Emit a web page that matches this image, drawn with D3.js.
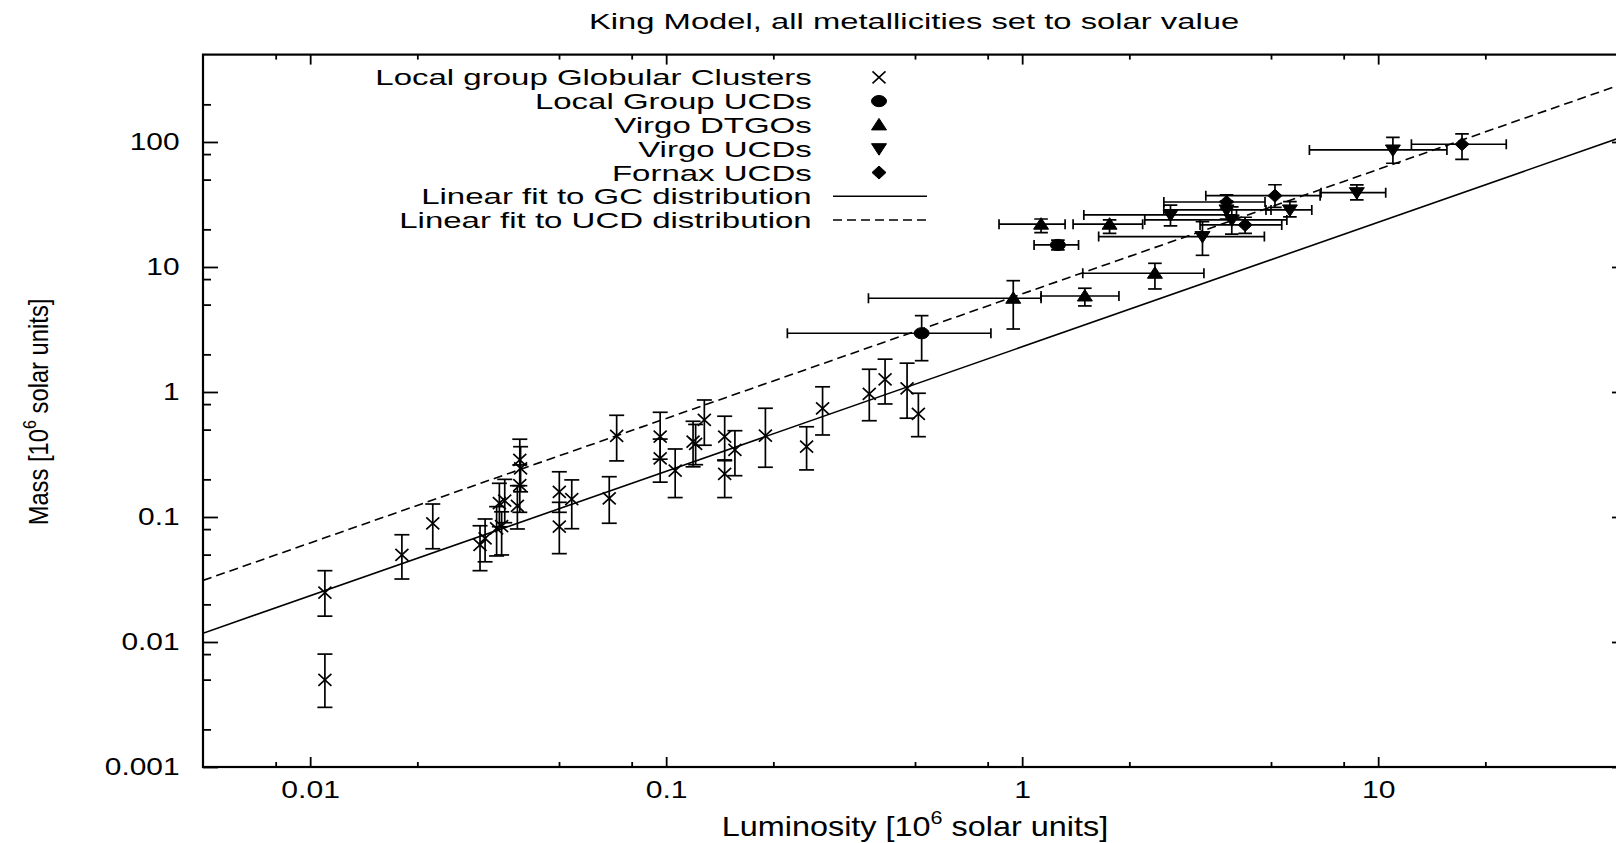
<!DOCTYPE html>
<html><head><meta charset="utf-8">
<script src="https://cdn.jsdelivr.net/npm/d3@7"></script>
<style>
body{margin:0;background:#fff}
svg{display:block;background:#fff}
text{font-family:"Liberation Sans",Arial,Helvetica,sans-serif;fill:#000}
</style>
</head><body>
<svg id="chart" width="1616" height="843"></svg>
<script>
// ---------- text ----------
const chartTitle = "King Model, all metallicities set to solar value";
const xTitleParts = ["Luminosity [10", "6", " solar units]"];
const yTitleParts = ["Mass [10", "6", " solar units]"];
const legendLabels = ["Local group Globular Clusters","Local Group UCDs","Virgo DTGOs","Virgo UCDs","Fornax UCDs","Linear fit to GC distribution","Linear fit to UCD distribution"];

// ---------- axes ----------
const xDomain = [0.005, 50];
const yDomain = [0.001, 500];
const xMajorTicks = [0.01, 0.1, 1, 10];
const xTickLabels = ["0.01", "0.1", "1", "10"];
const xMinorTicks = [0.008, 0.02, 0.05, 0.08, 0.2, 0.5, 0.8, 2, 5, 8, 20];
const yMajorTicks = [0.001, 0.01, 0.1, 1, 10, 100];
const yTickLabels = ["0.001", "0.01", "0.1", "1", "10", "100"];
const yMinorTicks = [0.002, 0.005, 0.008, 0.02, 0.05, 0.08, 0.2, 0.5, 0.8, 2, 5, 8, 20, 50, 80, 200];

// ---------- Local group globular clusters (y error only) ----------
const gcL   = [0.011, 0.011, 0.0181, 0.0221, 0.030, 0.031, 0.0334, 0.0345, 0.0340, 0.0352, 0.0388, 0.0390, 0.0388, 0.0382, 0.0501, 0.0501, 0.0543, 0.0692, 0.0726, 0.0962, 0.0962, 0.106, 0.119, 0.121, 0.128, 0.146, 0.146, 0.156, 0.190, 0.248, 0.275, 0.372, 0.412, 0.475, 0.511];
const gcM   = [0.0248, 0.00497, 0.0497, 0.0889, 0.0597, 0.0675, 0.0811, 0.0847, 0.129, 0.135, 0.286, 0.245, 0.180, 0.123, 0.159, 0.0836, 0.139, 0.141, 0.445, 0.439, 0.295, 0.235, 0.400, 0.384, 0.597, 0.439, 0.221, 0.344, 0.447, 0.365, 0.741, 0.964, 1.26, 1.07, 0.667];
const gcMlo = [0.0161, 0.0030, 0.0319, 0.0557, 0.0372, 0.0438, 0.0488, 0.0497, 0.0836, 0.090, 0.178, 0.159, 0.109, 0.0802, 0.109, 0.0509, 0.0806, 0.0891, 0.281, 0.290, 0.190, 0.143, 0.252, 0.262, 0.375, 0.286, 0.143, 0.214, 0.250, 0.238, 0.453, 0.589, 0.802, 0.617, 0.439];
const gcMhi = [0.0372, 0.0080, 0.0721, 0.127, 0.0851, 0.0964, 0.121, 0.110, 0.186, 0.200, 0.419, 0.365, 0.261, 0.178, 0.230, 0.131, 0.198, 0.210, 0.651, 0.688, 0.420, 0.350, 0.583, 0.55, 0.863, 0.640, 0.282, 0.490, 0.741, 0.527, 1.10, 1.52, 1.83, 1.70, 0.977];

// ---------- Local Group UCDs ----------
const lgL   = [0.522, 1.26];
const lgLlo = [0.219, 1.08];
const lgLhi = [0.817, 1.44];
const lgM   = [2.95, 15.0];
const lgMlo = [1.78, 13.7];
const lgMhi = [4.08, 16.4];

// ---------- Virgo DTGOs ----------
const dtL   = [0.944, 1.50, 2.36, 1.13, 1.76];
const dtLlo = [0.370, 1.13, 1.48, 0.861, 1.39];
const dtLhi = [1.13, 1.87, 3.24, 1.32, 2.18];
const dtM   = [5.62, 5.86, 8.91, 22.0, 22.0];
const dtMlo = [3.19, 4.88, 6.67, 18.8, 18.6];
const dtMhi = [7.77, 6.76, 10.7, 24.2, 23.8];

// ---------- Virgo UCDs ----------
const vuL   = [11.0, 8.71, 5.65, 2.61, 3.21, 3.75, 3.88];
const vuLlo = [6.41, 6.91, 4.84, 1.49, 1.64, 2.50, 2.21];
const vuLhi = [15.6, 10.5, 6.51, 4.0, 4.79, 5.0, 5.54];
const vuM   = [86.3, 39.3, 28.6, 26.1, 17.5, 28.6, 23.8];
const vuMlo = [67.6, 34.4, 25.2, 21.3, 12.4, 24.2, 18.3];
const vuMhi = [109, 45.3, 33.3, 31.3, 23.0, 33.7, 30.3];

// ---------- Fornax UCDs ----------
const fxL   = [17.2, 5.13, 3.75, 4.23];
const fxLlo = [12.4, 3.28, 2.50, 3.16];
const fxLhi = [22.9, 6.87, 4.81, 5.36];
const fxM   = [95.9, 37.2, 33.1, 21.7];
const fxMlo = [72.7, 30.0, 29.1, 18.6];
const fxMhi = [116, 45.5, 37.7, 25.0];

// ---------- linear fits in log-log: M = a * L^b ----------
const gcFit  = [2.30, 0.996];
const ucdFit = [6.09, 0.996];

// ================= drawing =================
const svg = d3.select("#chart");
const plot = {left: 203, right: 1627, top: 54.6, bottom: 767};

const x = d3.scaleLog().domain(xDomain).range([plot.left, plot.right]);
const y = d3.scaleLog().domain(yDomain).range([plot.bottom, plot.top]);

const FONT = 22;

// title
svg.append("text")
  .attr("transform", `translate(914,29) scale(1.49,1)`)
  .attr("text-anchor", "middle").attr("font-size", FONT).text(chartTitle);

// axes (ticks pointing inward, gnuplot style)
function styleAxis(g){
  g.select(".domain").remove();
  g.selectAll(".tick line").attr("stroke", "#000").attr("stroke-width", 1.8);
}
svg.append("g").attr("transform", `translate(0,${plot.bottom})`)
  .call(d3.axisBottom(x).tickValues(xMajorTicks).tickSizeInner(-10).tickSizeOuter(0)
        .tickPadding(15).tickFormat((d,i) => xTickLabels[i]))
  .call(styleAxis)
  .call(g => g.selectAll(".tick text").attr("font-size", 23).attr("font-family", null)
        .attr("transform", "scale(1.31,1)"));
svg.append("g").attr("transform", `translate(0,${plot.bottom})`)
  .call(d3.axisBottom(x).tickValues(xMinorTicks).tickSizeInner(-5).tickSizeOuter(0).tickFormat(""))
  .call(styleAxis);
svg.append("g").attr("transform", `translate(0,${plot.top})`)
  .call(d3.axisTop(x).tickValues(xMajorTicks).tickSizeInner(-10).tickSizeOuter(0).tickFormat(""))
  .call(styleAxis);
svg.append("g").attr("transform", `translate(0,${plot.top})`)
  .call(d3.axisTop(x).tickValues(xMinorTicks).tickSizeInner(-5).tickSizeOuter(0).tickFormat(""))
  .call(styleAxis);
svg.append("g").attr("transform", `translate(${plot.left},0)`)
  .call(d3.axisLeft(y).tickValues(yMajorTicks).tickSizeInner(-15).tickSizeOuter(0)
        .tickPadding(18).tickFormat((d,i) => yTickLabels[i]))
  .call(styleAxis)
  .call(g => g.selectAll(".tick text").attr("font-size", 23).attr("font-family", null)
        .attr("transform", "scale(1.3,1)"));
svg.append("g").attr("transform", `translate(${plot.left},0)`)
  .call(d3.axisLeft(y).tickValues(yMinorTicks).tickSizeInner(-8).tickSizeOuter(0).tickFormat(""))
  .call(styleAxis);
svg.append("g").attr("transform", `translate(${plot.right},0)`)
  .call(d3.axisRight(y).tickValues(yMajorTicks).tickSizeInner(-15).tickSizeOuter(0).tickFormat(""))
  .call(styleAxis);
svg.append("g").attr("transform", `translate(${plot.right},0)`)
  .call(d3.axisRight(y).tickValues(yMinorTicks).tickSizeInner(-8).tickSizeOuter(0).tickFormat(""))
  .call(styleAxis);

// border
svg.append("rect").attr("x", plot.left).attr("y", plot.top)
  .attr("width", plot.right - plot.left).attr("height", plot.bottom - plot.top)
  .attr("fill", "none").attr("stroke", "#000").attr("stroke-width", 2.2);

// axis titles
const xt = svg.append("text").attr("transform", "translate(915,836) scale(1.2,1)")
  .attr("text-anchor", "middle").attr("font-size", 27);
xt.append("tspan").text(xTitleParts[0]);
xt.append("tspan").attr("font-size", 18).attr("dy", -12).text(xTitleParts[1]);
xt.append("tspan").attr("dy", 12).text(xTitleParts[2]);

const yt = svg.append("text").attr("transform", "translate(48,412) rotate(-90) scale(0.95,1.1)")
  .attr("text-anchor", "middle").attr("font-size", 25);
yt.append("tspan").text(yTitleParts[0]);
yt.append("tspan").attr("font-size", 17).attr("dy", -11).text(yTitleParts[1]);
yt.append("tspan").attr("dy", 11).text(yTitleParts[2]);

// clip for data
svg.append("clipPath").attr("id", "pc").append("rect")
  .attr("x", plot.left).attr("y", plot.top)
  .attr("width", plot.right - plot.left).attr("height", plot.bottom - plot.top);
const data = svg.append("g").attr("clip-path", "url(#pc)");

// fit lines
const fitLine = d3.line().x(d => x(d[0])).y(d => y(d[1]));
function fitPoints(c){ return xDomain.map(L => [L, c[0] * Math.pow(L, c[1])]); }
data.append("path").attr("d", fitLine(fitPoints(gcFit)))
  .attr("fill", "none").attr("stroke", "#000").attr("stroke-width", 1.6);
data.append("path").attr("d", fitLine(fitPoints(ucdFit)))
  .attr("fill", "none").attr("stroke", "#000").attr("stroke-width", 1.6)
  .attr("stroke-dasharray", "9,5");

// markers
const markerPath = {
  cross: "M-6.5,-6L6.5,6M-6.5,6L6.5,-6",
  circle: "M-7.5,0A7.5,5.6 0 1,0 7.5,0A7.5,5.6 0 1,0 -7.5,0Z",
  up: "M0,-6.5L7.5,5L-7.5,5Z",
  down: "M0,6.5L7.5,-5L-7.5,-5Z",
  diamond: "M0,-6.5L7,0L0,6.5L-7,0Z"
};

function build(L, M, Mlo, Mhi, Llo, Lhi){
  return L.map((v,i) => ({L: v, M: M[i], Mlo: Mlo[i], Mhi: Mhi[i],
    Llo: Llo ? Llo[i] : null, Lhi: Lhi ? Lhi[i] : null}));
}
const series = [
  {pts: build(gcL, gcM, gcMlo, gcMhi), marker: "cross"},
  {pts: build(lgL, lgM, lgMlo, lgMhi, lgLlo, lgLhi), marker: "circle"},
  {pts: build(dtL, dtM, dtMlo, dtMhi, dtLlo, dtLhi), marker: "up"},
  {pts: build(vuL, vuM, vuMlo, vuMhi, vuLlo, vuLhi), marker: "down"},
  {pts: build(fxL, fxM, fxMlo, fxMhi, fxLlo, fxLhi), marker: "diamond"}
];

series.forEach(s => {
  const g = data.append("g");
  s.pts.forEach(p => {
    const cx = x(p.L), cy = y(p.M);
    const eb = g.append("g").attr("stroke", "#000").attr("stroke-width", 1.7).attr("fill", "none");
    const capW = s.marker === "cross" ? 7.5 : 6.8;
    eb.append("line").attr("x1", cx).attr("x2", cx).attr("y1", y(p.Mlo)).attr("y2", y(p.Mhi));
    eb.append("line").attr("x1", cx - capW).attr("x2", cx + capW).attr("y1", y(p.Mlo)).attr("y2", y(p.Mlo));
    eb.append("line").attr("x1", cx - capW).attr("x2", cx + capW).attr("y1", y(p.Mhi)).attr("y2", y(p.Mhi));
    if (p.Llo != null){
      eb.append("line").attr("x1", x(p.Llo)).attr("x2", x(p.Lhi)).attr("y1", cy).attr("y2", cy);
      eb.append("line").attr("x1", x(p.Llo)).attr("x2", x(p.Llo)).attr("y1", cy - 5).attr("y2", cy + 5);
      eb.append("line").attr("x1", x(p.Lhi)).attr("x2", x(p.Lhi)).attr("y1", cy - 5).attr("y2", cy + 5);
    }
    const m = g.append("path").attr("d", markerPath[s.marker]).attr("transform", `translate(${cx},${cy})`);
    if (s.marker === "cross") m.attr("fill", "none").attr("stroke", "#000").attr("stroke-width", 1.7);
    else m.attr("fill", "#000").attr("stroke", "#000").attr("stroke-width", 1);
  });
});

// legend
const legY0 = 77.3, legStep = 23.8, legTextX = 811.7, legSymX = 879, legLine = [833, 927];
const legendKinds = ["cross","circle","up","down","diamond","solid","dashed"];
legendLabels.forEach((lab, i) => {
  const cy = legY0 + i * legStep;
  svg.append("text").attr("transform", `translate(${legTextX},${cy + 8}) scale(1.5,1)`)
    .attr("text-anchor", "end").attr("font-size", FONT).text(lab);
  const k = legendKinds[i];
  if (k === "solid" || k === "dashed"){
    svg.append("line").attr("x1", legLine[0]).attr("x2", legLine[1]).attr("y1", cy).attr("y2", cy)
      .attr("stroke", "#000").attr("stroke-width", 1.5)
      .attr("stroke-dasharray", k === "dashed" ? "9,5" : null);
  } else {
    const m = svg.append("path").attr("d", markerPath[k]).attr("transform", `translate(${legSymX},${cy})`);
    if (k === "cross") m.attr("fill", "none").attr("stroke", "#000").attr("stroke-width", 1.6);
    else m.attr("fill", "#000").attr("stroke", "#000").attr("stroke-width", 1);
  }
});
</script>
</body></html>
